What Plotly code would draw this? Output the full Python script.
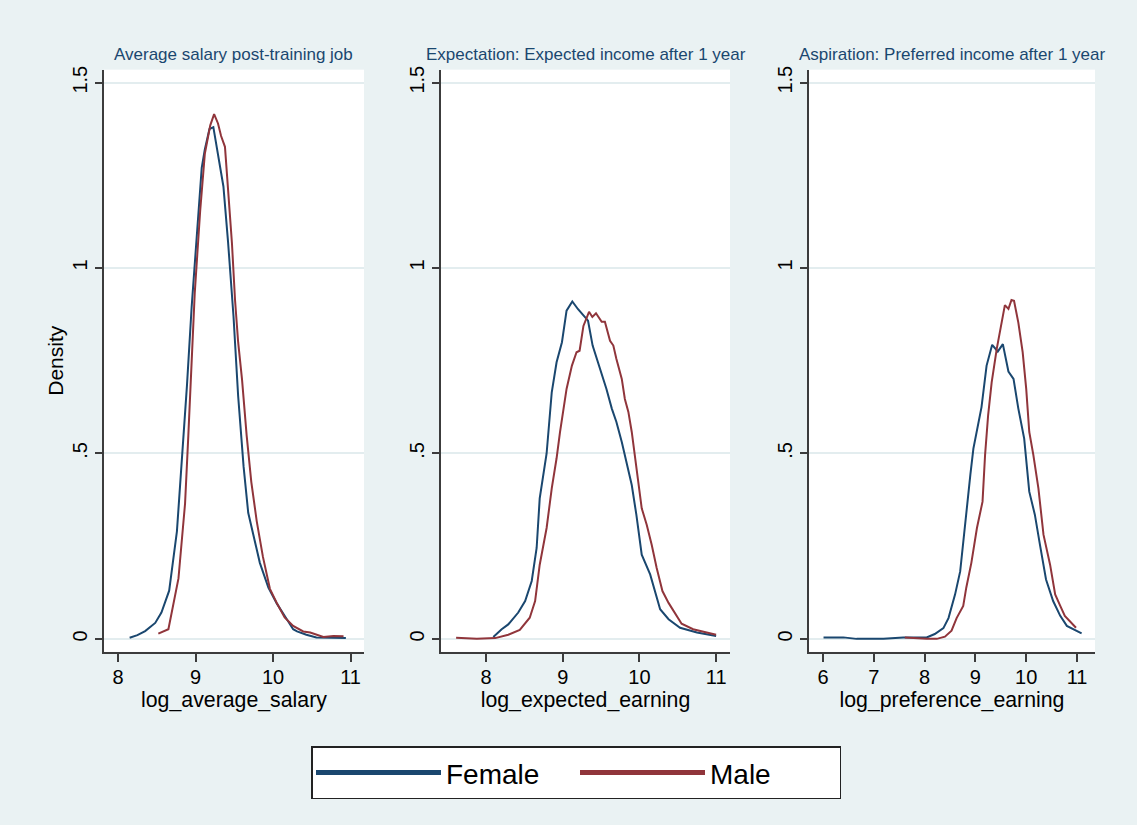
import plotly.graph_objects as go

# ---------------- data ----------------
panel_titles = ["Average salary post-training job",
                "Expectation: Expected income after 1 year",
                "Aspiration: Preferred income after 1 year"]
x_titles = ["log_average_salary", "log_expected_earning", "log_preference_earning"]
series_names = ["Female", "Male"]

# Panel 1: log_average_salary
sal_female_x = [8.15, 8.25, 8.35, 8.48, 8.56, 8.66, 8.76, 8.82, 8.89, 8.95, 9.02, 9.08, 9.12, 9.18,
                9.23, 9.29, 9.36, 9.42, 9.49, 9.55, 9.62, 9.68, 9.75, 9.83, 9.94, 10.05, 10.18,
                10.26, 10.31, 10.43, 10.56, 10.75, 10.94]
sal_female_y = [0.003, 0.01, 0.021, 0.043, 0.071, 0.13, 0.29, 0.47, 0.685, 0.895, 1.10, 1.27, 1.32,
                1.375, 1.38, 1.31, 1.22, 1.07, 0.87, 0.655, 0.465, 0.34, 0.273, 0.205, 0.138, 0.095,
                0.052, 0.026, 0.02, 0.011, 0.004, 0.003, 0.002]
sal_male_x = [8.52, 8.65, 8.78, 8.865, 8.907, 8.95, 8.99, 9.06, 9.12, 9.19, 9.24, 9.29, 9.33, 9.38,
              9.42, 9.47, 9.51, 9.55, 9.60, 9.66, 9.72, 9.79, 9.87, 9.96, 10.05, 10.15, 10.26,
              10.39, 10.48, 10.65, 10.78, 10.91]
sal_male_y = [0.014, 0.026, 0.163, 0.365, 0.548, 0.76, 0.933, 1.154, 1.308, 1.385, 1.415, 1.39, 1.356,
              1.327, 1.21, 1.067, 0.913, 0.80, 0.70, 0.548, 0.423, 0.317, 0.221, 0.135, 0.096, 0.058,
              0.035, 0.02, 0.017, 0.005, 0.008, 0.007]

# Panel 2: log_expected_earning
exp_female_x = [8.095, 8.204, 8.29, 8.42, 8.51, 8.596, 8.66, 8.70, 8.79, 8.857, 8.92, 8.99, 9.05,
                9.125, 9.20, 9.27, 9.33, 9.39, 9.44, 9.52, 9.57, 9.64, 9.70, 9.77, 9.83, 9.90, 9.96,
                10.03, 10.14, 10.27, 10.38, 10.53, 10.75, 11.0]
exp_female_y = [0.005, 0.026, 0.039, 0.071, 0.102, 0.156, 0.245, 0.379, 0.50, 0.665, 0.746, 0.80,
                0.885, 0.91, 0.889, 0.871, 0.858, 0.791, 0.759, 0.706, 0.674, 0.621, 0.585, 0.531,
                0.478, 0.415, 0.335, 0.227, 0.174, 0.08, 0.053, 0.03, 0.017, 0.008]
exp_male_x = [7.61, 7.88, 8.12, 8.29, 8.44, 8.57, 8.64, 8.70, 8.79, 8.857, 8.92, 8.965, 9.05, 9.12,
              9.18, 9.22, 9.27, 9.343, 9.386, 9.434, 9.508, 9.55, 9.617, 9.66, 9.70, 9.77, 9.81,
              9.856, 9.90, 9.94, 9.987, 10.03, 10.095, 10.16, 10.225, 10.30, 10.38, 10.46, 10.55,
              10.70, 10.87, 11.0]
exp_male_y = [0.003, 0.0, 0.002, 0.011, 0.024, 0.057, 0.102, 0.20, 0.299, 0.406, 0.487, 0.558, 0.674,
              0.737, 0.773, 0.777, 0.844, 0.882, 0.868, 0.878, 0.855, 0.855, 0.804, 0.791, 0.755,
              0.701, 0.647, 0.612, 0.558, 0.496, 0.424, 0.352, 0.308, 0.254, 0.191, 0.129, 0.097,
              0.071, 0.041, 0.026, 0.017, 0.011]

# Panel 3: log_preference_earning
pref_female_x = [6.01, 6.40, 6.66, 7.19, 7.58, 8.04, 8.20, 8.37, 8.47, 8.60, 8.70, 8.80, 8.90, 8.96,
                 9.03, 9.12, 9.22, 9.33, 9.44, 9.54, 9.65, 9.75, 9.845, 9.96, 10.06, 10.17, 10.27,
                 10.39, 10.53, 10.67, 10.80, 11.09]
pref_female_y = [0.004, 0.004, 0.0, 0.0, 0.004, 0.004, 0.013, 0.029, 0.056, 0.12, 0.182, 0.317,
                 0.442, 0.513, 0.567, 0.625, 0.737, 0.793, 0.775, 0.795, 0.721, 0.701, 0.621, 0.54,
                 0.397, 0.335, 0.254, 0.16, 0.102, 0.062, 0.035, 0.015]
pref_male_x = [7.61, 7.81, 8.04, 8.24, 8.40, 8.53, 8.63, 8.76, 8.82, 8.92, 9.03, 9.14, 9.19, 9.25,
               9.32, 9.42, 9.52, 9.58, 9.65, 9.71, 9.76, 9.845, 9.93, 10.0, 10.06, 10.14, 10.24,
               10.34, 10.47, 10.57, 10.67, 10.76, 10.98]
pref_male_y = [0.004, 0.002, 0.0, 0.0, 0.006, 0.022, 0.056, 0.089, 0.138, 0.205, 0.299, 0.37, 0.496,
               0.603, 0.692, 0.782, 0.862, 0.90, 0.89, 0.914, 0.912, 0.853, 0.773, 0.674, 0.558,
               0.496, 0.406, 0.281, 0.20, 0.12, 0.089, 0.062, 0.03]

y_tickvals = [0, 0.5, 1, 1.5]
y_ticktext = ["0", ".5", "1", "1.5"]
x_tickvals = [[8, 9, 10, 11], [8, 9, 10, 11], [6, 7, 8, 9, 10, 11]]

# ---------------- styling ----------------
W, H = 1137, 825
NAVY = "#1a476f"
MAROON = "#90353b"
BG = "#eaf2f3"
GRID = "#e3edef"
AXIS = "#3c3c3c"
FONT = "Liberation Sans, Arial, sans-serif"

x_px = [(104, 364), (441, 730), (809, 1095)]
x_ranges = [(7.819, 11.174), (7.413, 11.181), (5.724, 11.354)]
y_px = (66, 651)
y_range = (-0.035, 1.535)

data = [
    (sal_female_x, sal_female_y, sal_male_x, sal_male_y),
    (exp_female_x, exp_female_y, exp_male_x, exp_male_y),
    (pref_female_x, pref_female_y, pref_male_x, pref_male_y),
]

fig = go.Figure()
for i, (fx, fy, mx, my) in enumerate(data):
    sfx = "" if i == 0 else str(i + 1)
    fig.add_trace(go.Scatter(x=fx, y=fy, mode="lines", name=series_names[0],
                             line=dict(color=NAVY, width=2), xaxis="x" + sfx, yaxis="y" + sfx,
                             showlegend=(i == 0), legendgroup="f"))
    fig.add_trace(go.Scatter(x=mx, y=my, mode="lines", name=series_names[1],
                             line=dict(color=MAROON, width=2), xaxis="x" + sfx, yaxis="y" + sfx,
                             showlegend=(i == 0), legendgroup="m"))

layout = dict(
    width=W, height=H,
    margin=dict(l=0, r=0, t=0, b=0),
    paper_bgcolor=BG, plot_bgcolor="white",
    font=dict(family=FONT, color="black"),
    showlegend=True,
    legend=dict(orientation="h", x=311 / W, xanchor="left", y=1 - 746 / H, yanchor="top",
                bgcolor="white", bordercolor="#222222", borderwidth=1.5,
                font=dict(size=28, color="black", family=FONT),
                itemwidth=125, entrywidth=124, itemsizing="constant"),
)
annotations = []
for i in range(3):
    sfx = "" if i == 0 else str(i + 1)
    x0, x1 = x_px[i]
    layout["xaxis" + sfx] = dict(
        domain=[x0 / W, x1 / W], range=list(x_ranges[i]), anchor="y" + sfx,
        tickvals=x_tickvals[i], ticks="outside", ticklen=8, tickwidth=1.5, tickcolor=AXIS,
        showline=True, linecolor=AXIS, linewidth=1.5, showgrid=False, zeroline=False,
        tickfont=dict(size=20, color="black"), ticklabelstandoff=-2,
        title=dict(text=x_titles[i], font=dict(size=21.3, color="black"), standoff=0),
    )
    ya = dict(
        domain=[1 - y_px[1] / H, 1 - y_px[0] / H], range=list(y_range), anchor="x" + sfx,
        tickvals=y_tickvals, ticktext=y_ticktext, tickangle=-90,
        ticks="outside", ticklen=7, tickwidth=1.5, tickcolor=AXIS,
        showline=True, linecolor=AXIS, linewidth=1.5,
        showgrid=True, gridcolor=GRID, gridwidth=1.5,
        zeroline=True, zerolinecolor=GRID, zerolinewidth=1.5,
        tickfont=dict(size=20, color="black"),
    )
    if i == 0:
        ya["title"] = dict(text="Density", font=dict(size=21, color="black"), standoff=0)
    layout["yaxis" + sfx] = ya
    annotations.append(dict(text=panel_titles[i], x=(x0 + x1) / 2 / W, y=1 - 51 / H,
                            xref="paper", yref="paper", xanchor="center", yanchor="middle",
                            showarrow=False, font=dict(size=17, color=NAVY, family=FONT)))
layout["annotations"] = annotations
fig.update_layout(**layout)

fig.write_html("out.html", config={"displayModeBar": False},
               post_script="document.body.style.margin='0';")
